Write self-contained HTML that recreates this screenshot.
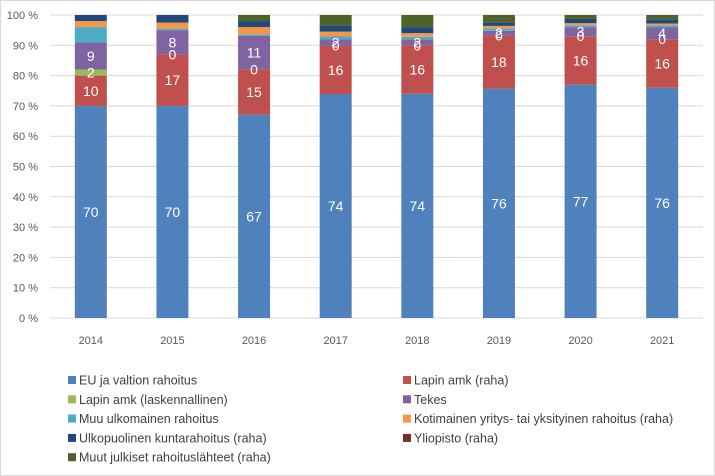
<!DOCTYPE html>
<html><head><meta charset="utf-8"><style>
html,body{margin:0;padding:0;background:#fff}
svg{display:block;font-family:"Liberation Sans",sans-serif}
</style></head><body>
<svg id="chart" width="715" height="476">
<rect x="0.5" y="0.5" width="714" height="475" fill="#fff" stroke="#d9d9d9"/>
<g id="grid"></g><g id="bars"></g><g id="labels"></g><g id="legend"></g>
</svg>
<script>
const years = ["2014","2015","2016","2017","2018","2019","2020","2021"];
const seriesNames = ["EU ja valtion rahoitus","Lapin amk (raha)","Lapin amk (laskennallinen)","Tekes","Muu ulkomainen rahoitus","Kotimainen yritys- tai yksityinen rahoitus (raha)","Ulkopuolinen kuntarahoitus (raha)","Yliopisto (raha)","Muut julkiset rahoituslähteet (raha)"];
const euValues = [70,70,67,74,74,75.7,77,76];
const lapinValues = [10,17,15,16,16,17.5,16,16];
const laskValues = [2,0,0,0,0,0,0,0];
const tekesValues = [9,8,11,2,2,1.6,3,4];
const muuUlkValues = [5,0.5,0.5,1,0.8,0.8,0.6,0.6];
const kotimainenValues = [2,2,2.4,1.6,1.2,0.8,0.7,0.6];
const kuntaValues = [2,2.5,2,2,2,1.2,1.4,1.4];
const yliopistoValues = [0,0,0,0,0,0,0,0];
const muutValues = [0,0,2,3.5,4,2.4,1.3,1.4];
const yTicks = [0,10,20,30,40,50,60,70,80,90,100];
const labelledSeries = [0,1,2,3];

const colors = ["#4F81BD","#C0504D","#9BBB59","#8064A2","#4BACC6","#F79646","#1F497D","#772C2A","#4F6228"];
const allSeries = [euValues,lapinValues,laskValues,tekesValues,muuUlkValues,kotimainenValues,kuntaValues,yliopistoValues,muutValues];
const NS="http://www.w3.org/2000/svg";
const x0=50,x1=703,yTop=15,yBot=318,barW=32;
const yScale=v=>yBot-(yBot-yTop)*v/100;
const step=(x1-x0)/years.length;
const xCenter=i=>x0+step*(i+0.5);
function mk(tag,attrs,parent){const e=document.createElementNS(NS,tag);for(const k in attrs)e.setAttribute(k,attrs[k]);parent.appendChild(e);return e;}
const grid=document.getElementById('grid'),bars=document.getElementById('bars'),labels=document.getElementById('labels'),legend=document.getElementById('legend');
yTicks.forEach(t=>{
  const y=yScale(t);
  const l=mk('line',{x1:x0,x2:x1,y1:y,y2:y,stroke:'#d9d9d9','stroke-width':1},grid);
  
  
  const tx=mk('text',{x:38,y:y+4,'text-anchor':'end','font-size':11,fill:'#595959'},grid);
  tx.textContent=t+' %';
  
  
});
years.forEach((yr,i)=>{
  const tx=mk('text',{x:xCenter(i),y:344,'text-anchor':'middle','font-size':11,fill:'#595959'},grid);
  tx.textContent=yr;
  
  
  let total=allSeries.reduce((s,a)=>s+a[i],0);
  let cum=0;
  allSeries.forEach((arr,s)=>{
    const v=arr[i]/total*100;
    const yA=yScale(cum),yB=yScale(cum+v);
    if(v>0){
      const r=mk('rect',{x:xCenter(i)-barW/2,y:yB,width:barW,height:yA-yB,fill:colors[s]},bars);
      
      
    }
    if(labelledSeries.includes(s)){
      const lt=mk('text',{x:xCenter(i),y:(yA+yB)/2+5,'text-anchor':'middle','font-size':14,fill:'#fff'},labels);
      lt.textContent=Math.round(arr[i]);
      
      
    }
    cum+=v;
  });
});
seriesNames.forEach((n,s)=>{
  const col=s%2,row=Math.floor(s/2);
  const lx=col?403:68,ly=380+row*19.3;
  const r=mk('rect',{x:lx,y:ly-4,width:8,height:8,fill:colors[s]},legend);
  
  
  const t=mk('text',{x:lx+11,y:ly+4.5,'font-size':12.5,fill:'#404040'},legend);
  t.textContent=n;
  
  
});
</script>
</body></html>
